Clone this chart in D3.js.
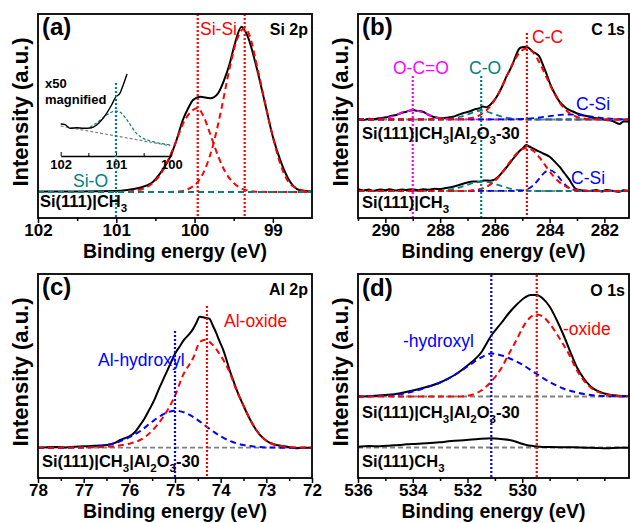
<!DOCTYPE html>
<html><head><meta charset="utf-8">
<script src="https://cdn.jsdelivr.net/npm/d3@7"></script>
<style>body{margin:0;background:#fff}svg{display:block}</style>
</head><body><svg id="c" width="630" height="523"></svg>
<script>
// ---------------- DATA ----------------
// (a) Si 2p  [binding energy eV, intensity a.u.]
const aRaw = [[102.0,0.5],[101.5,0.6],[101.0,1],[100.86,2],[100.7,4.3],[100.53,10.3],[100.44,18.7],[100.31,35.3],[100.23,52],[100.15,72],[100.08,84],[100.02,92],[99.93,95.3],[99.8,93.7],[99.7,98.7],[99.63,110.3],[99.55,128.7],[99.49,147],[99.4,165.3],[99.32,155.3],[99.21,125.3],[99.1,88.7],[99.0,55.3],[98.89,28.7],[98.78,10.3],[98.66,2],[98.5,0.3]];
const aSiSi1 = [[102,0],[100.4,0],[100.2,0.6],[100.06,3.8],[99.96,10],[99.86,24],[99.76,48],[99.66,82],[99.56,121],[99.46,152],[99.36,164],[99.3,157],[99.2,125],[99.1,89],[99.0,55],[98.9,27],[98.8,10],[98.7,4],[98.6,1.2],[98.5,0.3]];
const aSiSi2 = [[102,0],[101.0,0],[100.9,0.3],[100.75,1.5],[100.65,3.5],[100.55,8],[100.45,16],[100.35,30],[100.25,48],[100.15,68],[100.05,80],[99.96,84],[99.9,78],[99.8,58],[99.7,36],[99.6,19],[99.5,9],[99.4,3.5],[99.3,1.2],[99.2,0.3],[99.0,0],[98.5,0]];
const aSiO = [[102,0],[98.5,0]];
const aPeaks = [101.0, 99.96, 99.36];
// inset x50 magnified
const aInRaw = [[102.0,32],[101.92,31.3],[101.83,27.7],[101.71,28.3],[101.59,27.7],[101.44,28.3],[101.35,31],[101.26,36],[101.17,42.7],[101.08,51],[101.0,59.3],[100.93,62.7],[100.87,71],[100.8,82]];
const aInSiO = [[101.47,28.7],[101.32,34.3],[101.17,41],[101.0,45],[100.9,42.7],[100.78,34.3],[100.63,22.7],[100.51,17.7],[100.33,14.3],[100.02,11]];
const aInBg = [[102.0,30],[100.02,10.3]];
const aInTicks = [102, 101, 100];
const aInMinor = [101.5, 100.5];

// (b) C 1s
const bTopRaw = [[291.0,0.5],[290.8,-0.5],[290.6,0.8],[290.45,0.3],[290.25,1.2],[289.96,2.2],[289.8,3.5],[289.6,4.5],[289.4,6.8],[289.23,7.8],[289.1,9],[288.99,9.5],[288.85,8.8],[288.63,7.8],[288.45,5],[288.26,2.8],[288.1,1.8],[287.9,1.2],[287.7,2],[287.53,2.8],[287.35,4.5],[287.17,6.2],[287.0,7.5],[286.86,8.8],[286.7,10.5],[286.56,11.2],[286.45,13],[286.31,12.2],[286.2,14],[286.07,17.8],[285.95,22],[285.83,27.8],[285.7,35],[285.58,42.8],[285.46,49],[285.34,56.2],[285.2,66],[285.1,71.2],[284.95,72.5],[284.85,72.8],[284.7,70],[284.61,67.8],[284.5,66],[284.37,62.8],[284.25,55],[284.12,46.2],[284.0,37],[283.88,29.5],[283.75,23],[283.64,17.8],[283.5,14],[283.39,11.2],[283.15,8],[282.91,5.2],[282.65,3.5],[282.42,1.8],[282.2,0.8],[281.93,-0.5],[281.7,-1.5],[281.45,-4.5],[281.3,-2],[281.1,-2]];
const bTopCC = [[291,0],[287.35,0.2],[286.85,1.5],[286.6,3.7],[286.35,8.1],[286.1,15.7],[285.85,27.1],[285.6,41.3],[285.35,55.8],[285.1,66.9],[284.85,71],[284.6,66.9],[284.35,55.8],[284.1,41.3],[283.85,27.1],[283.6,15.7],[283.35,8.1],[283.1,3.7],[282.85,1.5],[282.35,0.2],[281.1,0]];
const bTopCSi = [[291,0],[285.5,0.1],[285.0,0.5],[284.5,1.6],[284.0,3.4],[283.6,4.6],[283.3,5],[283.0,4.6],[282.5,3.0],[282.0,1.3],[281.5,0.4],[281.1,0.1]];
const bTopCO = [[291,0],[288.0,0.2],[287.6,1],[287.3,2.5],[287.0,5],[286.75,7.5],[286.5,9],[286.25,7.5],[286.0,5],[285.7,2.5],[285.4,1],[285.0,0.2],[284.5,0],[281.1,0]];
const bTopOCO = [[291,0],[290.5,0.1],[290.0,1.2],[289.7,3.5],[289.4,6.8],[289.0,9],[288.6,6.8],[288.3,3.5],[288.0,1.2],[287.5,0.1],[281.1,0]];
const bBotRaw = [[291.0,1.7],[290.8,0.5],[290.6,1.5],[290.45,0.3],[290.2,1.5],[290.0,0.8],[289.84,1.7],[289.6,0.5],[289.4,1.5],[289.23,1.0],[289.0,1.8],[288.8,0.8],[288.63,1.7],[288.4,1.2],[288.2,2.2],[288.02,2.0],[287.8,3.0],[287.53,4.3],[287.3,6],[287.04,8.3],[286.8,9.5],[286.56,9.3],[286.4,10.5],[286.19,10.3],[286.05,11],[285.95,12.7],[285.83,15.5],[285.71,19.3],[285.58,23.5],[285.46,27.7],[285.34,32],[285.22,36],[285.1,40],[284.98,42.7],[284.85,46],[284.75,44.5],[284.61,42.7],[284.5,41],[284.37,39.3],[284.2,37],[284.0,34.3],[283.82,29.5],[283.64,24.3],[283.45,17.5],[283.27,11],[283.15,5.5],[283.03,1.7],[282.8,0.5],[282.54,0],[282.3,1],[282.1,-0.5],[281.93,1],[281.7,0.2],[281.45,-0.7],[281.3,0.8],[281.1,0.3]];
const bBotCC = [[291,0],[287.35,0],[286.85,0.6],[286.6,1.5],[286.35,3.7],[286.1,7.9],[285.85,14.5],[285.6,23.3],[285.35,32.8],[285.1,40.2],[284.85,43],[284.6,40.2],[284.35,32.8],[284.1,23.3],[283.85,14.5],[283.6,7.9],[283.35,3.7],[283.1,1.5],[282.85,0.6],[282.35,0],[281.1,0]];
const bBotCSi = [[291,0],[285.2,0.1],[285.0,0.5],[284.8,2.0],[284.6,5.5],[284.4,11.6],[284.2,18.1],[284.0,21],[283.8,18.1],[283.6,11.6],[283.4,5.5],[283.2,2.0],[283.0,0.5],[282.8,0.1],[281.1,0]];
const bBotCO = [[291,0],[288.45,0],[287.95,0.4],[287.7,1.1],[287.45,2.4],[287.2,4.4],[286.95,6.7],[286.7,8.7],[286.45,9.5],[286.2,8.7],[285.95,6.7],[285.7,4.4],[285.45,2.4],[285.2,1.1],[284.95,0.4],[284.45,0],[281.1,0]];
const bPeaks = [289.0, 286.5, 284.83];
const bStackOffset = 71.5;

// (c) Al 2p
const cRaw = [[78.0,0],[77.8,0.5],[77.6,0.6],[77.4,0.3],[77.2,1.0],[77.09,1.3],[76.9,1.5],[76.72,2],[76.55,2.5],[76.43,3.3],[76.3,5],[76.21,7.6],[76.1,9.5],[75.99,11.6],[75.88,15.5],[75.78,21.6],[75.67,29],[75.56,38.3],[75.45,48],[75.34,60],[75.23,71],[75.12,82],[75.0,94],[74.9,101],[74.8,108],[74.7,113],[74.61,118.3],[74.53,125],[74.46,131],[74.35,130],[74.25,129],[74.17,122],[74.1,115],[74.03,107],[73.95,98.5],[73.88,89],[73.81,78.3],[73.73,68],[73.66,59],[73.59,51],[73.52,44],[73.43,35],[73.33,26],[73.24,19],[73.15,13.3],[73.04,8.5],[72.93,5],[72.8,3],[72.64,1.6],[72.5,0.5],[72.35,-0.5],[72.2,0],[72.0,0]];
const cOxide = [[78,0],[77.0,0.2],[76.5,0.8],[76.25,2],[76.0,4],[75.75,8],[75.5,17],[75.27,30],[75.0,52],[74.83,72],[74.6,90],[74.45,106],[74.33,108],[74.2,104],[74.0,92],[73.81,76],[73.66,58],[73.52,44],[73.33,26],[73.15,13.5],[72.93,5],[72.64,1.5],[72.35,0.3],[72,0]];
const cHydroxyl = [[78,0],[77.5,0],[77.0,0.3],[76.75,1.0],[76.5,2.6],[76.25,5.5],[76.0,10.5],[75.75,17],[75.5,26],[75.25,33.5],[75.0,37],[74.75,34.4],[74.5,27.6],[74.25,19.1],[74.0,11.4],[73.75,5.9],[73.5,2.6],[73.25,1.0],[73.0,0.3],[72.5,0],[72,0]];
const cPeaks = [75.0, 74.3];

// (d) O 1s
const dTopRaw = [[536,0],[535.5,0.5],[535,1.5],[534.5,3],[534,6],[533.5,9.5],[533,14],[532.5,21],[532,31],[531.5,44],[531.13,61],[530.75,74],[530.5,83],[530.2,92],[529.9,99],[529.7,101.5],[529.47,101.5],[529.25,98],[529.0,90],[528.75,77],[528.5,62],[528.25,45],[528.0,29],[527.75,18],[527.5,10],[527.0,3],[526.5,0.8],[526.1,0.3]];
const dOxide = [[536,0],[532.3,0],[531.8,2],[531.5,6],[531.13,15],[530.75,29],[530.5,42],[530.2,57],[530,68],[529.75,78],[529.47,82],[529.25,80],[529,73],[528.75,63],[528.5,52],[528.25,40],[528,26],[527.75,16],[527.5,9],[527,2.5],[526.5,0.6],[526.1,0.1]];
const dHydroxyl = [[536,0],[535,0.7],[534.5,2],[534,5],[533.5,9],[533,14],[532.5,21],[532,30],[531.5,39],[531.13,43],[530.75,41],[530.5,38.5],[530,32],[529.5,23],[529,14.5],[528.5,8],[528,4],[527.5,1.5],[527,0.5],[526.1,0]];
const dBotRaw = [[536.0,0.8],[535.6,1.5],[535.2,1.2],[534.8,2.0],[534.5,2.5],[534.23,3.2],[533.9,3.6],[533.5,4.2],[533.02,5.2],[532.6,6.5],[532.04,7.5],[531.6,8.5],[531.13,9.2],[530.8,8.5],[530.34,6.8],[530.1,4.5],[529.85,2.5],[529.6,1.5],[529.37,0.8],[529.0,0.5],[528.6,0.3],[528.15,0.2],[527.7,-0.2],[527.3,-0.5],[526.93,-0.8],[526.5,-0.3],[526.1,-0.2]];
const dPeaks = [531.13, 529.47];
const dStackOffset = 51;

// axes ticks
const aMajor = [102, 101, 100, 99], aMinor = [101.5, 100.5, 99.5];
const bMajor = [290, 288, 286, 284, 282], bMinor = [291, 289, 287, 285, 283, 281];
const cMajor = [78, 77, 76, 75, 74, 73, 72], cMinor = [77.5, 76.5, 75.5, 74.5, 73.5, 72.5];
const dMajor = [536, 534, 532, 530], dMinor = [535, 533, 531, 529, 528, 527];

// ---------------- DRAW ----------------
const FF = '"Liberation Sans", Arial, Helvetica, sans-serif';
const TEAL = "#008080", RED = "#ff0000", BLUE = "#0000ff", MAG = "#ff00ff", GREY = "#808080";
const svg = d3.select("#c");

function panel(f, dom, ydom) {
  return {
    f,
    x: d3.scaleLinear().domain(dom).range([f.left, f.right]),
    y: d3.scaleLinear().domain(ydom).range([f.bottom, f.top])
  };
}

function frameAxes(p, major, minor, titleDy) {
  const f = p.f;
  const g = svg.append("g").attr("transform", `translate(0,${f.bottom})`);
  const mi = g.append("g").call(d3.axisBottom(p.x).tickValues(minor).tickSize(3).tickSizeOuter(0).tickFormat(""));
  mi.select(".domain").remove();
  mi.selectAll("line").attr("stroke", "#000").attr("stroke-width", 1.5);
  const ma = g.append("g").call(d3.axisBottom(p.x).tickValues(major).tickSize(5).tickSizeOuter(0).tickPadding(1.4).tickFormat(d3.format("d")));
  ma.select(".domain").remove();
  ma.attr("font-family", FF);
  ma.selectAll("line").attr("stroke", "#000").attr("stroke-width", 1.5);
  ma.selectAll("text").attr("font-size", 17).attr("font-weight", "bold").attr("fill", "#000");
  svg.append("rect").attr("x", f.left).attr("y", f.top).attr("width", f.right - f.left).attr("height", f.bottom - f.top)
    .attr("fill", "none").attr("stroke", "#000").attr("stroke-width", 1.8);
  svg.append("text").attr("x", (f.left + f.right) / 2).attr("y", f.bottom + titleDy)
    .attr("text-anchor", "middle").attr("font-family", FF).attr("font-weight", "bold").attr("font-size", 19.5)
    .text("Binding energy (eV)");
  svg.append("text").attr("transform", `translate(${f.left - 10},${(f.top + f.bottom) / 2 - 4}) rotate(-90)`)
    .attr("text-anchor", "middle").attr("font-family", FF).attr("font-weight", "bold").attr("font-size", 22)
    .text("Intensity (a.u.)");
}

function curve(p, data, off, color, w, dash) {
  const pts = data.slice().sort((a, b) => b[0] - a[0]);
  const line = d3.line().x(d => p.x(d[0])).y(d => p.y(d[1] + off)).curve(d3.curveMonotoneX);
  const path = svg.append("path").attr("d", line(pts)).attr("fill", "none").attr("stroke", color)
    .attr("stroke-width", w).attr("stroke-linejoin", "round");
  if (dash) path.attr("stroke-dasharray", dash);
  return path;
}
function vline(p, e, top, color) {
  svg.append("line").attr("x1", p.x(e)).attr("x2", p.x(e)).attr("y1", top).attr("y2", p.f.bottom)
    .attr("stroke", color).attr("stroke-width", 2.2).attr("stroke-dasharray", "2,2");
}
function label(x, y, txt, color, size, bold, anchor) {
  svg.append("text").attr("x", x).attr("y", y).attr("fill", color).attr("font-family", FF)
    .attr("font-size", size).attr("font-weight", bold ? "bold" : "normal").attr("text-anchor", anchor || "start").text(txt);
}
function rich(x, y, parts) {
  const t = svg.append("text").attr("x", x).attr("y", y).attr("font-family", FF).attr("font-size", 16.5)
    .attr("font-weight", "bold").attr("fill", "#000");
  let down = false;
  parts.forEach(pt => {
    if (Array.isArray(pt)) { t.append("tspan").attr("dy", 4.5).attr("font-size", 11.5).text(pt[0]); down = true; }
    else { const s = t.append("tspan").text(pt); if (down) { s.attr("dy", -4.5); down = false; } }
  });
}
const CH3 = ["Si(111)|CH", ["3"]];
const CH3AL = ["Si(111)|CH", ["3"], "|Al", ["2"], "O", ["3"], "-30"];
const DASH = "6,4";

// ---- (a)
const A = panel({left: 38, right: 312, top: 14, bottom: 218}, [102, 98.5], [-26, 178]);
curve(A, aRaw, 0, "#000", 2);
curve(A, aSiSi1, 0, RED, 2, DASH);
curve(A, aSiSi2, 0, RED, 2, DASH);
curve(A, aSiO, 0, TEAL, 2, DASH);
vline(A, aPeaks[1], 14, RED);
vline(A, aPeaks[2], 14, RED);
// inset
const AI = {x: d3.scaleLinear().domain([102, 100]).range([60.7, 171.3]), y: d3.scaleLinear().domain([0, 86]).range([156, 70])};
AI.f = {bottom: 218};
curve(AI, aInBg, 0, GREY, 1.2, "3,2");
curve(AI, aInSiO, 0, TEAL, 1.2, "3,2");
curve(AI, aInRaw, 0, "#000", 1.4);
const ia = svg.append("g").attr("transform", "translate(0,156)");
const iaMin = ia.append("g").call(d3.axisTop(AI.x).tickValues(aInMinor).tickSize(3).tickSizeOuter(0).tickFormat(""));
iaMin.select(".domain").remove();
const iaMaj = svg.append("g").attr("transform", "translate(0,156)")
  .call(d3.axisBottom(AI.x).tickValues(aInTicks).tickSize(0).tickSizeOuter(0).tickPadding(4).tickFormat(d3.format("d")));
iaMaj.attr("font-family", FF);
iaMaj.select(".domain").attr("stroke", "#000").attr("stroke-width", 1.3);
iaMaj.selectAll("text").attr("font-size", 13).attr("font-weight", "bold").attr("fill", "#000");
ia.append("g").call(d3.axisTop(AI.x).tickValues(aInTicks).tickSize(4).tickSizeOuter(0).tickFormat("")).select(".domain").remove();
vline(AI, aPeaks[0], 83, TEAL);
label(45, 88, "x50", "#000", 13, true);
label(45, 104, "magnified", "#000", 13, true);
frameAxes(A, aMajor, aMinor, 40);
label(42, 35, "(a)", "#000", 24, true);
label(308, 35, "Si 2p", "#000", 16, true, "end");
label(200, 35, "Si-Si", RED, 17.5);
label(73, 187, "Si-O", TEAL, 17.5);
rich(40, 207, CH3);

// ---- (b)
const B = panel({left: 358, right: 629, top: 14, bottom: 218}, [291, 281.1], [-27, 177]);
curve(B, [[291, 0], [281.1, 0]], bStackOffset, GREY, 1.8, "5,3");
curve(B, [[291, 0], [281.1, 0]], 0, GREY, 1.8, "5,3");
curve(B, bTopRaw, bStackOffset, "#000", 2);
curve(B, bBotRaw, 0, "#000", 2);
curve(B, bTopOCO, bStackOffset, MAG, 1.8, DASH);
curve(B, bTopCO, bStackOffset, TEAL, 1.8, DASH);
curve(B, bTopCSi, bStackOffset, BLUE, 1.8, DASH);
curve(B, bTopCC, bStackOffset, RED, 2, DASH);
curve(B, bBotCO, 0, TEAL, 1.8, DASH);
curve(B, bBotCSi, 0, BLUE, 1.8, DASH);
curve(B, bBotCC, 0, RED, 2, DASH);
vline(B, bPeaks[0], 76, MAG);
vline(B, bPeaks[1], 76, TEAL);
vline(B, bPeaks[2], 33, RED);
frameAxes(B, bMajor, bMinor, 40);
label(362, 35, "(b)", "#000", 24, true);
label(625, 35, "C 1s", "#000", 16, true, "end");
label(532, 43, "C-C", RED, 17.5);
label(393, 74, "O-C=O", MAG, 17.5);
label(469, 74, "C-O", TEAL, 17.5);
label(576, 110, "C-Si", BLUE, 17.5);
label(571, 184, "C-Si", BLUE, 17.5);
rich(362, 139, CH3AL);
rich(362, 208, CH3);

// ---- (c)
const C = panel({left: 38, right: 312, top: 274, bottom: 478}, [78, 72], [-30.3, 173.7]);
curve(C, [[78, 0], [72, 0]], 0, GREY, 1.8, "5,3");
curve(C, cRaw, 0, "#000", 2);
curve(C, cHydroxyl, 0, BLUE, 2, DASH);
curve(C, cOxide, 0, RED, 2, DASH);
vline(C, cPeaks[0], 331, BLUE);
vline(C, cPeaks[1], 306, RED);
frameAxes(C, cMajor, cMinor, 40);
label(42, 295, "(c)", "#000", 24, true);
label(308, 295, "Al 2p", "#000", 16, true, "end");
label(224, 327, "Al-oxide", RED, 17.5);
label(98, 366, "Al-hydroxyl", BLUE, 17.5);
rich(42, 467, CH3AL);

// ---- (d)
const D = panel({left: 358, right: 629, top: 274, bottom: 478}, [536, 526.1], [-30.5, 173.5]);
curve(D, [[536, 0], [526.1, 0]], dStackOffset, GREY, 1.8, "5,3");
curve(D, [[536, 0], [526.1, 0]], 0, GREY, 1.8, "5,3");
curve(D, dTopRaw, dStackOffset, "#000", 2);
curve(D, dBotRaw, 0, "#000", 2);
curve(D, dHydroxyl, dStackOffset, BLUE, 2, DASH);
curve(D, dOxide, dStackOffset, RED, 2, DASH);
vline(D, dPeaks[0], 275, BLUE);
vline(D, dPeaks[1], 275, RED);
frameAxes(D, dMajor, dMinor, 40);
label(362, 296, "(d)", "#000", 24, true);
label(625, 296, "O 1s", "#000", 16, true, "end");
label(403, 347, "-hydroxyl", BLUE, 17.5);
label(563, 335, "-oxide", RED, 17.5);
rich(362, 418, CH3AL);
rich(362, 467, ["Si(111)CH", ["3"]]);
</script>
</body></html>
